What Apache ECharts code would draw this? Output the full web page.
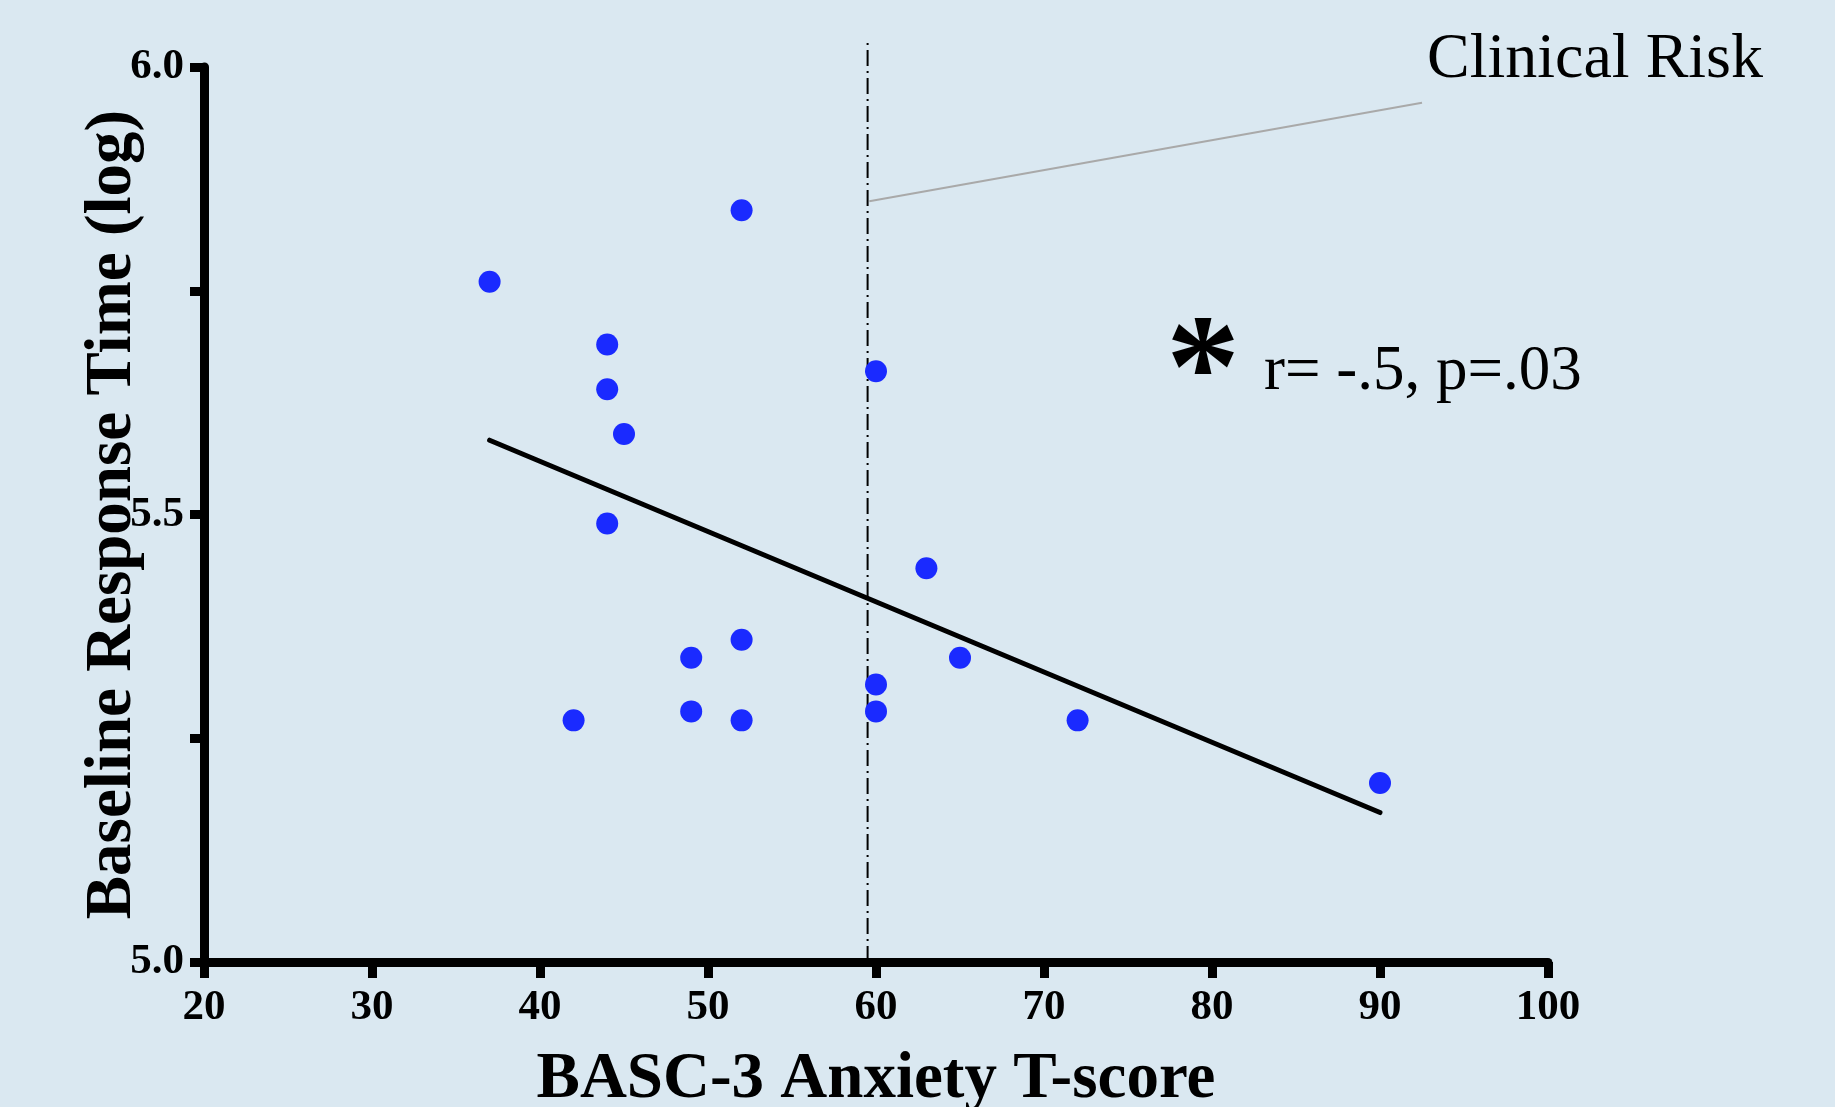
<!DOCTYPE html>
<html>
<head>
<meta charset="utf-8">
<script src="https://cdn.jsdelivr.net/npm/echarts@6/dist/echarts.min.js"></script>
<style>
  html, body { margin: 0; padding: 0; background: #dae8f1; }
  #chart { width: 1835px; height: 1107px; }
</style>
</head>
<body>
<div id="chart"></div>
<script>
// BASC-3 anxiety T-score vs baseline response time (log)
const anxietyScores = [37, 52, 44, 44, 45, 44, 60, 63, 52, 49, 65, 60, 60, 49, 42, 52, 72, 90];
const responseTimes = [5.76, 5.84, 5.69, 5.64, 5.59, 5.49, 5.66, 5.44, 5.36, 5.34, 5.34, 5.31, 5.28, 5.28, 5.27, 5.27, 5.27, 5.20];

const trendX = [37, 90];
const trendY = [5.583, 5.167];

const clinicalCutoff = 59.5;
const cutoffRange = [5.0, 6.03];

const calloutX = [59.6, 92.5];
const calloutY = [5.85, 5.96];

const xTicks = { min: 20, max: 100, step: 10 };
const yTicks = { min: 5.0, max: 6.0, step: 0.25 };

const serif = "'Liberation Serif', 'Times New Roman', serif";

const points = anxietyScores.map((x, i) => [x, responseTimes[i]]);
const trend = trendX.map((x, i) => [x, trendY[i]]);
const cutoff = cutoffRange.map(y => [clinicalCutoff, y]);
const callout = calloutX.map((x, i) => [x, calloutY[i]]);

const myChart = echarts.init(document.getElementById('chart'));

const option = {
    backgroundColor: '#dae8f1',
    animation: false,
    grid: { left: 204, right: 287, top: 67, bottom: 145, outerBoundsMode: 'none' },
    xAxis: {
        type: 'value',
        min: xTicks.min,
        max: xTicks.max,
        interval: xTicks.step,
        name: 'BASC-3 Anxiety T-score',
        nameLocation: 'middle',
        nameGap: 86,
        nameMoveOverlap: false,
        nameTextStyle: { fontFamily: serif, fontWeight: 'bold', fontSize: 65, color: '#000' },
        axisLine: { lineStyle: { color: '#000', width: 9 } },
        axisTick: { length: 16, lineStyle: { color: '#000', width: 9 } },
        axisLabel: { margin: 24, fontFamily: serif, fontWeight: 'bold', fontSize: 43, color: '#000' },
        splitLine: { show: false }
    },
    yAxis: {
        type: 'value',
        min: yTicks.min,
        max: yTicks.max,
        interval: yTicks.step,
        name: 'Baseline Response Time (log)',
        nameLocation: 'middle',
        nameGap: 58,
        nameMoveOverlap: false,
        nameTextStyle: { fontFamily: serif, fontWeight: 'bold', fontSize: 65, color: '#000' },
        axisLine: { lineStyle: { color: '#000', width: 9 } },
        axisTick: { length: 14, lineStyle: { color: '#000', width: 9 } },
        axisLabel: {
            margin: 20,
            fontFamily: serif,
            fontWeight: 'bold',
            fontSize: 43,
            color: '#000',
            formatter: v => (Math.abs(v * 2 - Math.round(v * 2)) < 1e-6 ? v.toFixed(1) : '')
        },
        splitLine: { show: false }
    },
    series: [
        {
            name: 'cutoff',
            type: 'line',
            data: cutoff,
            symbol: 'none',
            clip: false,
            z: 1,
            lineStyle: { color: '#000', width: 2, type: [16, 5, 2, 5] }
        },
        {
            name: 'callout',
            type: 'line',
            data: callout,
            symbol: 'none',
            clip: false,
            z: 1,
            lineStyle: { color: '#a9a9a9', width: 2 }
        },
        {
            name: 'trend',
            type: 'line',
            data: trend,
            symbol: 'none',
            z: 2,
            lineStyle: { color: '#000', width: 5, cap: 'round' }
        },
        {
            name: 'subjects',
            type: 'scatter',
            data: points,
            symbolSize: 22,
            z: 3,
            itemStyle: { color: '#1a2aff', opacity: 1 }
        }
    ],
    graphic: [
        {
            type: 'text',
            left: 1427,
            top: 28,
            style: { text: 'Clinical Risk', font: '64px ' + serif, fill: '#000' }
        },
        {
            type: 'text',
            x: 1203,
            y: 378,
            style: { text: '*', font: 'bold 148px ' + serif, fill: '#000', align: 'center', verticalAlign: 'middle' }
        },
        {
            type: 'text',
            left: 1264,
            top: 341,
            style: { text: 'r= -.5, p=.03', font: '63px ' + serif, fill: '#000' }
        }
    ]
};

myChart.setOption(option);
</script>
</body>
</html>
